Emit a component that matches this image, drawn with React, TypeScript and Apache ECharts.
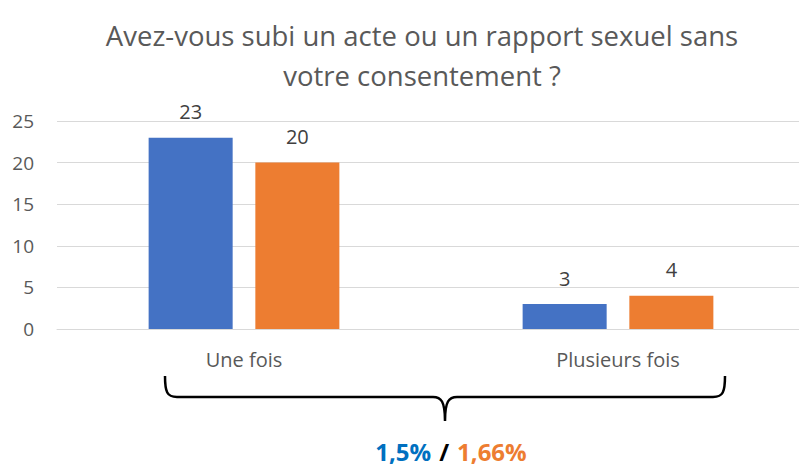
import React, { useEffect, useRef } from "react";
import * as echarts from "echarts";

const categories = ["Une fois", "Plusieurs fois"];
const series1 = [23, 3];
const series2 = [20, 4];
const yTicks = { min: 0, max: 25, interval: 5 };
const titleText = "Avez-vous subi un acte ou un rapport sexuel sans\nvotre consentement ?";
const pct1 = "1,5%";
const pct2 = "1,66%";

const FONT = "'Open Sans', sans-serif";

echarts.graphic.registerShape(
  "brace",
  echarts.graphic.extendPath(
    "M0,0 C0,16 2,21 12,21 L268,21 C276,21 280,25 280,45 M280,45 C280,25 284,21 292,21 L548,21 C558,21 560,16 560,0",
    {}
  )
);

export default function App() {
  const ref = useRef<HTMLDivElement>(null);
  useEffect(() => {
    document.body.style.margin = "0";
    document.body.style.overflow = "hidden";
    const chart = echarts.init(ref.current!, null, { renderer: "svg" });
    chart.setOption({
      animation: false,
      backgroundColor: "#ffffff",
      title: {
        text: titleText,
        left: 417,
        top: 10,
        textAlign: "center",
        textStyle: {
          fontFamily: FONT,
          fontSize: 27.5,
          fontWeight: "normal",
          color: "#595959",
          lineHeight: 40,
        },
      },
      grid: { left: 57, top: 121, width: 748, height: 208, containLabel: false },
      xAxis: {
        type: "category",
        data: categories,
        axisTick: { show: false },
        axisLine: { lineStyle: { color: "#D9D9D9", width: 1 } },
        axisLabel: { color: "#595959", fontSize: 20, fontFamily: FONT, margin: 20 },
      },
      yAxis: {
        type: "value",
        min: yTicks.min,
        max: yTicks.max,
        interval: yTicks.interval,
        axisLine: { show: false },
        axisTick: { show: false },
        splitLine: { lineStyle: { color: "#D9D9D9", width: 1 } },
        axisLabel: { color: "#595959", fontSize: 19, fontFamily: FONT, margin: 23 },
      },
      series: [
        {
          name: "Série 1",
          type: "bar",
          data: series1,
          barGap: "27%",
          barCategoryGap: "49%",
          itemStyle: { color: "#4472C4" },
          label: { show: true, position: "top", distance: 16, color: "#404040", fontSize: 20, fontFamily: FONT },
        },
        {
          name: "Série 2",
          type: "bar",
          data: series2,
          barGap: "27%",
          barCategoryGap: "49%",
          itemStyle: { color: "#ED7D31" },
          label: { show: true, position: "top", distance: 16, color: "#404040", fontSize: 20, fontFamily: FONT },
        },
      ],
      graphic: [
        {
          type: "brace",
          x: 165,
          y: 376,
          style: { stroke: "#000000", lineWidth: 2.5, fill: "none" },
        },
        {
          type: "text",
          x: 451,
          y: 451,
          style: {
            text: `{a|${pct1}}{b|/}{c|${pct2}}`,
            align: "center",
            verticalAlign: "middle",
            rich: {
              a: { fontFamily: FONT, fontSize: 24, lineHeight: 22, fontWeight: "bold", fill: "#0070C0" },
              b: { fontFamily: FONT, fontSize: 24, lineHeight: 22, fontWeight: "bold", fill: "#000000", padding: [0, 8, 0, 8] },
              c: { fontFamily: FONT, fontSize: 24, lineHeight: 22, fontWeight: "bold", fill: "#ED7D31" },
            },
          },
        },
      ],
    });
    return () => chart.dispose();
  }, []);
  return <div ref={ref} style={{ width: 831, height: 470 }} />;
}
